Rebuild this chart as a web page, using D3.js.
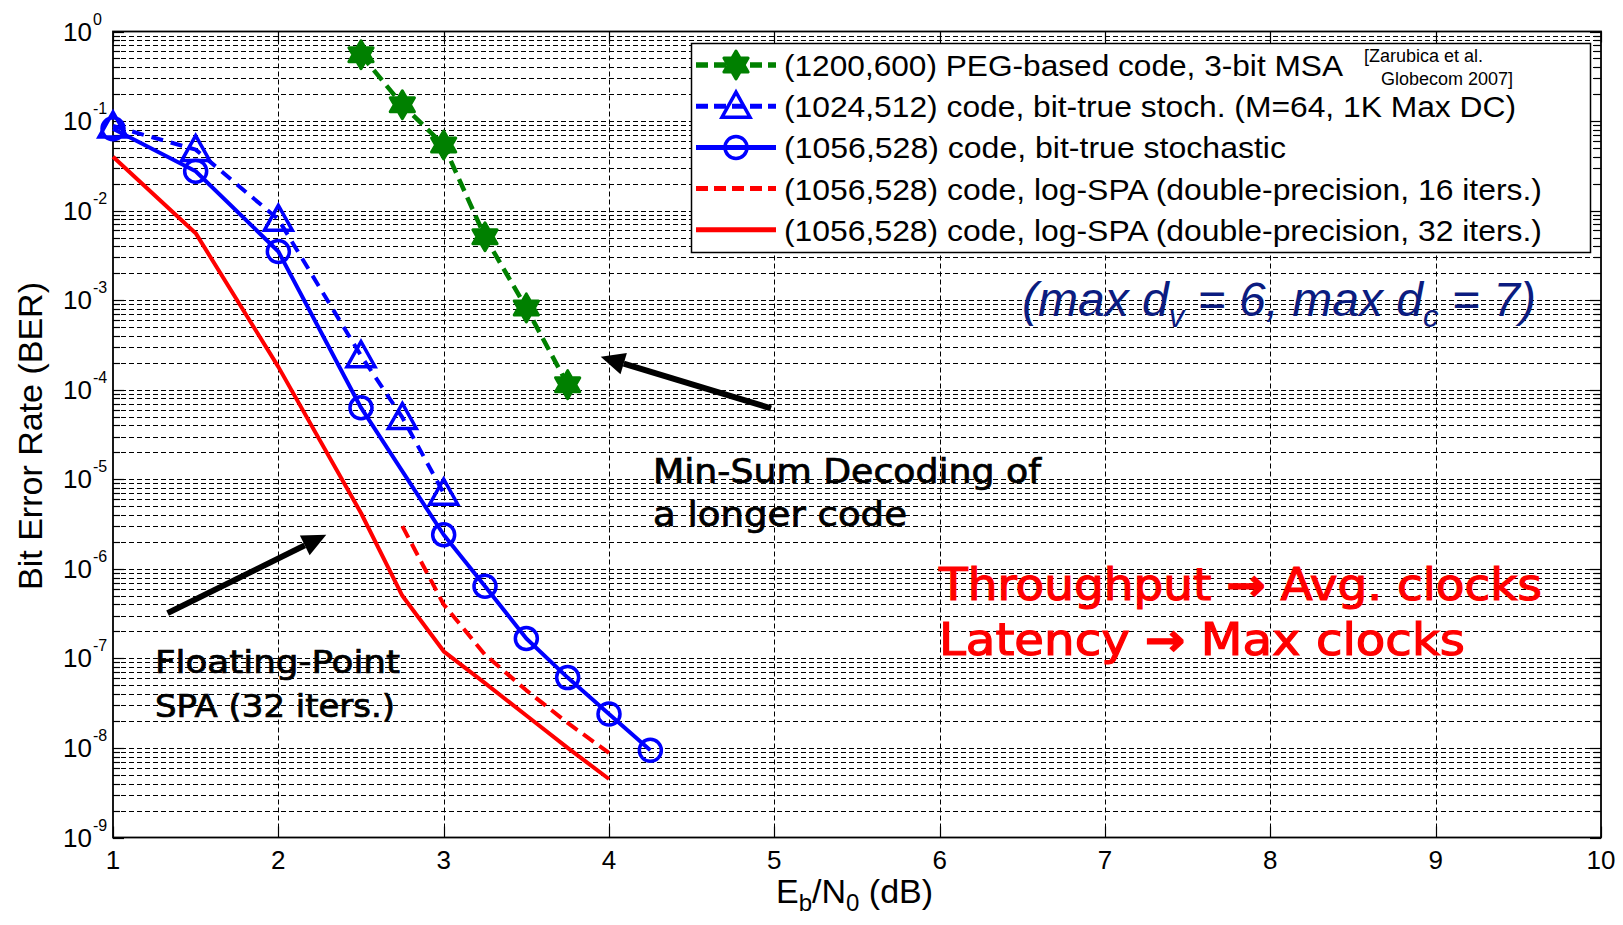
<!DOCTYPE html>
<html>
<head>
<meta charset="utf-8">
<script src="https://cdn.jsdelivr.net/npm/d3@7"></script>
<style>
  body { margin: 0; background: #fff; }
  svg { display: block; }
</style>
</head>
<body>
<div id="chart"></div>
<script>
// values (Eb/N0 in dB, BER)
const ebno_peg = [2.5, 2.75, 3, 3.25, 3.5, 3.75];
const ber_peg = [0.55, 0.152, 0.054, 5.1e-3, 8.2e-4, 1.14e-4];

const ebno_stoch64 = [1, 1.5, 2, 2.5, 2.75, 3];
const ber_stoch64 = [0.088, 0.048, 8.0e-3, 2.4e-4, 4.9e-5, 7.0e-6];

const ebno_stoch = [1, 1.5, 2, 2.5, 3, 3.25, 3.5, 3.75, 4, 4.25];
const ber_stoch = [0.082, 0.0275, 3.5e-3, 6.3e-5, 2.4e-6, 6.4e-7, 1.67e-7, 6.1e-8, 2.4e-8, 9.4e-9];

const ebno_spa16 = [2.75, 3, 3.25, 3.5, 3.75, 4];
const ber_spa16 = [3.0e-6, 4.0e-7, 1.1e-7, 4.4e-8, 1.9e-8, 8.8e-9];

const ebno_spa32 = [1, 1.5, 2, 2.5, 2.75, 3, 3.25, 3.5, 3.75, 4];
const ber_spa32 = [0.040, 5.6e-3, 1.8e-4, 4.2e-6, 5.0e-7, 1.2e-7, 5.3e-8, 2.3e-8, 1.0e-8, 4.5e-9];

const xTicks = [1, 2, 3, 4, 5, 6, 7, 8, 9, 10];
const yExponents = [0, -1, -2, -3, -4, -5, -6, -7, -8, -9];

const legendLabels = [
  "(1200,600) PEG-based code, 3-bit MSA",
  "(1024,512) code, bit-true stoch. (M=64, 1K Max DC)",
  "(1056,528) code, bit-true stochastic",
  "(1056,528) code, log-SPA (double-precision, 16 iters.)",
  "(1056,528) code, log-SPA (double-precision, 32 iters.)"
];

const width = 1623;
const height = 925;
const pLeft = 113, pRight = 1601, pTop = 31.5, pBottom = 837.5;

const svg = d3.select("#chart")
  .append("svg")
  .attr("width", width)
  .attr("height", height)
  .style("font-family", "'Liberation Sans', Arial, sans-serif");

const xScale = d3.scaleLinear().domain([1, 10]).range([pLeft, pRight]);
const yScale = d3.scaleLog().domain([1e-9, 1]).range([pBottom, pTop]);

/* grid */
const grid = svg.append("g")
  .attr("stroke", "#000")
  .attr("stroke-width", 1)
  .attr("stroke-dasharray", "5,3");

grid.selectAll(".hgrid")
  .data(yScale.ticks().filter(v => v > 1.01e-9 && v < 0.99))
  .enter()
  .append("line")
  .attr("x1", pLeft).attr("x2", pRight)
  .attr("y1", d => Math.round(yScale(d)) + 0.5)
  .attr("y2", d => Math.round(yScale(d)) + 0.5);

grid.selectAll(".vgrid")
  .data(xTicks.slice(1, -1))
  .enter()
  .append("line")
  .attr("y1", pTop).attr("y2", pBottom)
  .attr("x1", d => Math.round(xScale(d)) + 0.5)
  .attr("x2", d => Math.round(xScale(d)) + 0.5);

/* ticks */
const ticks = svg.append("g").attr("stroke", "#000").attr("stroke-width", 1.2);
yScale.ticks().forEach(v => {
  const major = Math.abs(Math.log10(v) - Math.round(Math.log10(v))) < 1e-6;
  const len = major ? 11 : 7;
  const y = Math.round(yScale(v)) + 0.5;
  ticks.append("line").attr("x1", pLeft).attr("x2", pLeft + len).attr("y1", y).attr("y2", y);
  ticks.append("line").attr("x1", pRight).attr("x2", pRight - len).attr("y1", y).attr("y2", y);
});
xTicks.forEach(v => {
  const x = Math.round(xScale(v)) + 0.5;
  ticks.append("line").attr("x1", x).attr("x2", x).attr("y1", pBottom).attr("y2", pBottom - 11);
  ticks.append("line").attr("x1", x).attr("x2", x).attr("y1", pTop).attr("y2", pTop + 11);
});

/* axis box */
svg.append("rect")
  .attr("x", pLeft).attr("y", pTop)
  .attr("width", pRight - pLeft).attr("height", pBottom - pTop)
  .attr("fill", "none").attr("stroke", "#000").attr("stroke-width", 1.8);

/* tick labels */
svg.selectAll(".xlab")
  .data(xTicks)
  .enter()
  .append("text")
  .attr("x", d => xScale(d))
  .attr("y", 869)
  .attr("text-anchor", "middle")
  .attr("font-size", 26)
  .text(d => d);

svg.selectAll(".ylab")
  .data(yExponents)
  .enter()
  .append("text")
  .attr("x", 92)
  .attr("y", d => yScale(Math.pow(10, d)) + 9)
  .attr("text-anchor", "end")
  .attr("font-size", 26)
  .text("10");

svg.selectAll(".yexp")
  .data(yExponents)
  .enter()
  .append("text")
  .attr("x", 93)
  .attr("y", d => yScale(Math.pow(10, d)) - 7)
  .attr("font-size", 16)
  .text(d => d === 0 ? "0" : d);

/* axis titles */
const xt = svg.append("text")
  .attr("x", 776).attr("y", 903)
  .attr("font-size", 34);
xt.append("tspan").text("E");
xt.append("tspan").attr("font-size", 24).attr("dy", 8).text("b");
xt.append("tspan").attr("dy", -8).text("/N");
xt.append("tspan").attr("font-size", 24).attr("dy", 8).text("0");
xt.append("tspan").attr("dy", -8).text(" (dB)");

svg.append("text")
  .attr("transform", "translate(42,436) rotate(-90)")
  .attr("text-anchor", "middle")
  .attr("font-size", 34)
  .text("Bit Error Rate (BER)");

/* series */
const line = d3.line().x(d => xScale(d[0])).y(d => yScale(d[1]));

function hexagram(R) {
  const r = R / Math.sqrt(3);
  const pts = [];
  for (let i = 0; i < 12; i++) {
    const a = (-90 + i * 30) * Math.PI / 180;
    const rad = i % 2 === 0 ? R : r;
    pts.push([rad * Math.cos(a), rad * Math.sin(a)]);
  }
  return "M" + pts.map(p => p[0].toFixed(2) + "," + p[1].toFixed(2)).join("L") + "Z";
}
const triPath = "M0,-14L14,11L-14,11Z";

const series = [
  { xs: ebno_peg, ys: ber_peg, color: "#008000", width: 4.5, dash: "13,7", marker: "hex" },
  { xs: ebno_stoch64, ys: ber_stoch64, color: "#0000ff", width: 4, dash: "12,8", marker: "tri" },
  { xs: ebno_stoch, ys: ber_stoch, color: "#0000ff", width: 4, dash: null, marker: "circle" },
  { xs: ebno_spa16, ys: ber_spa16, color: "#ff0000", width: 4, dash: "13,7", marker: null },
  { xs: ebno_spa32, ys: ber_spa32, color: "#ff0000", width: 4, dash: null, marker: null }
];

function drawMarker(g, type, color, x, y) {
  if (type === "hex") {
    g.append("path").attr("d", hexagram(14))
      .attr("transform", `translate(${x},${y})`)
      .attr("fill", color).attr("stroke", color).attr("stroke-width", 3)
      .attr("stroke-linejoin", "round");
  } else if (type === "tri") {
    g.append("path").attr("d", triPath)
      .attr("transform", `translate(${x},${y})`)
      .attr("fill", "none").attr("stroke", color).attr("stroke-width", 3.5);
  } else if (type === "circle") {
    g.append("circle").attr("cx", x).attr("cy", y).attr("r", 11)
      .attr("fill", "none").attr("stroke", color).attr("stroke-width", 3.5);
  }
}

const plot = svg.append("g");
series.slice().reverse().forEach(s => {
  const pts = s.xs.map((x, i) => [x, s.ys[i]]);
  plot.append("path")
    .attr("d", line(pts))
    .attr("fill", "none")
    .attr("stroke", s.color)
    .attr("stroke-width", s.width)
    .attr("stroke-dasharray", s.dash)
    .attr("stroke-linejoin", "round");
  if (s.marker) {
    pts.forEach(p => drawMarker(plot, s.marker, s.color, xScale(p[0]), yScale(p[1])));
  }
});

/* legend */
const legend = svg.append("g");
legend.append("rect")
  .attr("x", 691.5).attr("y", 43.5)
  .attr("width", 899).attr("height", 209)
  .attr("fill", "#fff").attr("stroke", "#000").attr("stroke-width", 1.5);

const legendWidths = [559, 732, 502, 758, 758];
series.forEach((s, i) => {
  const y = 65 + i * 41.2;
  legend.append("line")
    .attr("x1", 696).attr("x2", 776)
    .attr("y1", y).attr("y2", y)
    .attr("stroke", s.color).attr("stroke-width", s.width + 1)
    .attr("stroke-dasharray", s.dash ? "12,6" : null);
  if (s.marker) drawMarker(legend, s.marker, s.color, 736, y);
  legend.append("text")
    .attr("x", 784).attr("y", y + 11)
    .attr("font-size", 30)
    .attr("textLength", legendWidths[i])
    .attr("lengthAdjust", "spacingAndGlyphs")
    .text(legendLabels[i]);
});
legend.append("text").attr("x", 1364).attr("y", 62).attr("font-size", 18).text("[Zarubica et al.");
legend.append("text").attr("x", 1381).attr("y", 85).attr("font-size", 18).text("Globecom 2007]");

/* annotations */
const arrows = [
  { from: [4.98, 6.2e-5], to: [3.95, 2.34e-4] },
  { from: [1.33, 3.2e-7], to: [2.29, 2.4e-6] }
];
arrows.forEach(a => {
  const x1 = xScale(a.from[0]), y1 = yScale(a.from[1]);
  const x2 = xScale(a.to[0]), y2 = yScale(a.to[1]);
  const ang = Math.atan2(y2 - y1, x2 - x1);
  const hl = 24, hw = 11;
  const bx = x2 - hl * Math.cos(ang), by = y2 - hl * Math.sin(ang);
  svg.append("line")
    .attr("x1", x1).attr("y1", y1).attr("x2", bx).attr("y2", by)
    .attr("stroke", "#000").attr("stroke-width", 6);
  svg.append("path")
    .attr("d", `M${x2},${y2}L${bx - hw * Math.sin(ang)},${by + hw * Math.cos(ang)}L${bx + hw * Math.sin(ang)},${by - hw * Math.cos(ang)}Z`)
    .attr("fill", "#000");
});

const noteFont = "'DejaVu Sans Condensed', 'DejaVu Sans', sans-serif";
const notes = [
  { parts: ["Min-Sum Decoding of"], x: 653, y: 483, size: 34, len: 388, color: "#000", thick: 0.7 },
  { parts: ["a longer code"], x: 653, y: 526, size: 34, len: 254, color: "#000", thick: 0.7 },
  { parts: ["Floating-Point"], x: 155, y: 673, size: 32, len: 245, color: "#000", thick: 0.7 },
  { parts: ["SPA (32 iters.)"], x: 155, y: 717, size: 32, len: 240, color: "#000", thick: 0.7 },
  { parts: ["Throughput ", "\u2192", " Avg. clocks"], x: 939, y: 600, size: 44, len: 603, color: "#ff0000", thick: 1.1 },
  { parts: ["Latency ", "\u2192", " Max clocks"], x: 939, y: 655, size: 44, len: 526, color: "#ff0000", thick: 1.1 }
];
notes.forEach(n => {
  const t = svg.append("text")
    .attr("x", n.x).attr("y", n.y)
    .attr("font-family", noteFont)
    .attr("font-size", n.size)
    .attr("fill", n.color)
    .attr("stroke", n.color)
    .attr("stroke-width", n.thick)
    .attr("textLength", n.len)
    .attr("lengthAdjust", "spacingAndGlyphs");
  n.parts.forEach(p => {
    t.append("tspan")
      .attr("font-weight", p === "\u2192" ? "bold" : null)
      .text(p);
  });
});

const deg = svg.append("text")
  .attr("x", 1022).attr("y", 316)
  .attr("font-size", 48)
  .attr("font-style", "italic")
  .attr("fill", "#0b1c80");
deg.append("tspan").text("(max d");
deg.append("tspan").attr("font-size", 31).attr("dy", 11).text("v");
deg.append("tspan").attr("dy", -11).text(" = 6, max d");
deg.append("tspan").attr("font-size", 31).attr("dy", 11).text("c");
deg.append("tspan").attr("dy", -11).text(" = 7)");
</script>
</body>
</html>
